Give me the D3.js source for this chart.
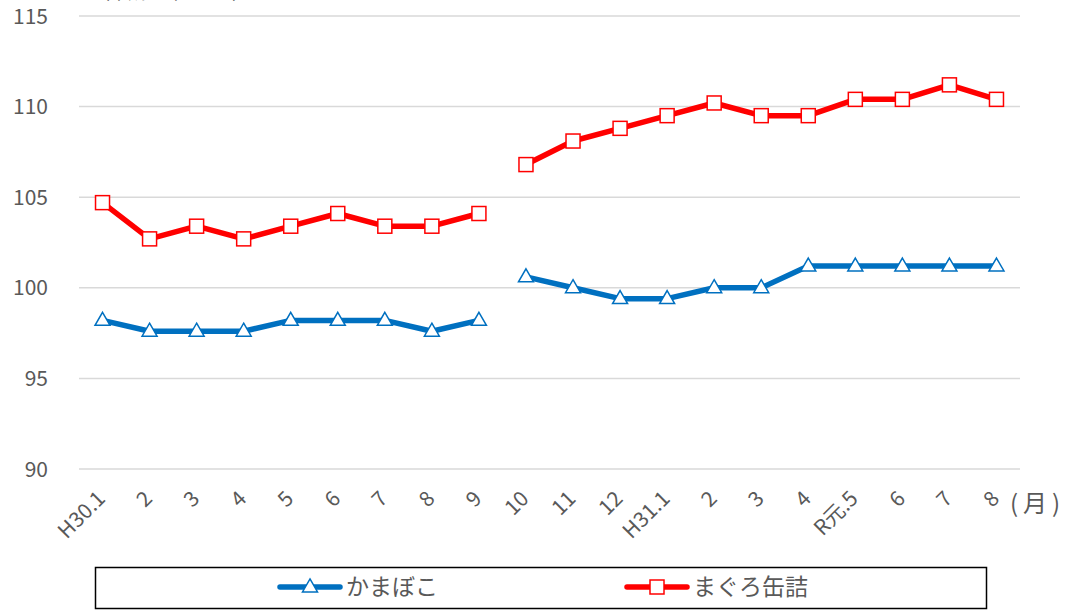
<!DOCTYPE html>
<html><head><meta charset="utf-8">
<script src="https://cdn.jsdelivr.net/npm/d3@7/dist/d3.min.js"></script>
<style>body{margin:0;background:#fff;} svg{display:block;font-family:"Noto Sans CJK JP","Noto Sans",sans-serif;}</style>
</head><body>
<svg id="c" width="1072" height="610"></svg>
<script>
const categories = ["H30.1","2","3","4","5","6","7","8","9","10","11","12","H31.1","2","3","4","R元.5","6","7","8"];
const kamaboko = [98.2,97.6,97.6,97.6,98.2,98.2,98.2,97.6,98.2,100.6,100.0,99.4,99.4,100.0,100.0,101.2,101.2,101.2,101.2,101.2];
const maguro = [104.7,102.7,103.4,102.7,103.4,104.1,103.4,103.4,104.1,106.8,108.1,108.8,109.5,110.2,109.5,109.5,110.4,110.4,111.2,110.4];
const breakAfter = 8; // no line between index 8 and 9
const yTicks = [90,95,100,105,110,115];
const seriesNames = ["かまぼこ","まぐろ缶詰"];

const svg = d3.select("#c");
const pLeft = 79, pRight = 1020, pTop = 16, pBottom = 469;
const x = d3.scaleBand().domain(d3.range(categories.length)).range([pLeft, pRight]);
const y = d3.scaleLinear().domain([90,115]).range([pBottom, pTop]);
const cx = i => x(i) + x.bandwidth()/2;
const txt = "#595959";

// gridlines
svg.append("g").selectAll("line").data(yTicks).join("line")
  .attr("x1", pLeft).attr("x2", pRight)
  .attr("y1", d=>y(d)).attr("y2", d=>y(d))
  .attr("stroke", "#d9d9d9").attr("stroke-width", 1.5);

// y labels
svg.append("g").selectAll("text").data(yTicks).join("text")
  .attr("x", 48).attr("y", d=>y(d)).attr("dy","0.36em")
  .attr("text-anchor","end").attr("font-size",21).attr("fill",txt)
  .text(d=>d);

// top note (cut off in the reference)
svg.append("text").attr("x", 92).attr("y", -1).attr("font-size",18).attr("fill",txt)
  .text("（平成27年＝100）");

// x labels
svg.append("g").selectAll("text").data(categories).join("text")
  .attr("transform",(d,i)=>`translate(${cx(i)+4},${500}) rotate(-45)`)
  .attr("text-anchor","end").attr("font-size",21).attr("fill",txt)
  .text(d=>d);
svg.append("text").attr("x", 1010).attr("y", 503).attr("dy","0.36em")
  .attr("font-size",24).attr("letter-spacing",5).attr("fill",txt).text("(月)");

function drawMarker(g, px, py, color, marker){
  if(marker==="sq"){
    g.append("rect").attr("x",px-7).attr("y",py-7).attr("width",14).attr("height",14)
      .attr("fill","#fff").attr("stroke",color).attr("stroke-width",1.5);
  } else {
    const s = 15, h = s*0.866;
    g.append("path").attr("d",`M${px},${py-h*0.62}L${px+s/2},${py+h*0.38}L${px-s/2},${py+h*0.38}Z`)
      .attr("fill","#fff").attr("stroke",color).attr("stroke-width",1.5);
  }
}
function drawSeries(vals, color, marker){
  const pts = vals.map((v,i)=>({v,i}));
  const segs = [pts.slice(0,breakAfter+1), pts.slice(breakAfter+1)];
  const l = d3.line().x(d=>cx(d.i)).y(d=>y(d.v));
  segs.forEach(s=>svg.append("path").attr("d", l(s)).attr("fill","none")
    .attr("stroke",color).attr("stroke-width",5.5).attr("stroke-linejoin","round"));
  const g = svg.append("g");
  pts.forEach(d=>drawMarker(g, cx(d.i), y(d.v), color, marker));
}
drawSeries(kamaboko, "#0070c0", "tri");
drawSeries(maguro, "#ff0000", "sq");

// legend
svg.append("rect").attr("x",95.5).attr("y",567.5).attr("width",891).attr("height",41)
  .attr("fill","#fff").attr("stroke","#000").attr("stroke-width",1.5);
const leg = [{name:seriesNames[0], color:"#0070c0", m:"tri", x0:280},{name:seriesNames[1], color:"#ff0000", m:"sq", x0:627}];
const ly = 587;
leg.forEach(d=>{
  svg.append("line").attr("x1",d.x0).attr("x2",d.x0+60).attr("y1",ly).attr("y2",ly)
    .attr("stroke",d.color).attr("stroke-width",5.5).attr("stroke-linecap","round");
  drawMarker(svg, d.x0+30, ly, d.color, d.m);
  svg.append("text").attr("x",d.x0+66).attr("y",ly).attr("dy","0.36em")
    .attr("font-size",23).attr("fill",txt).text(d.name);
});
</script>
</body></html>
